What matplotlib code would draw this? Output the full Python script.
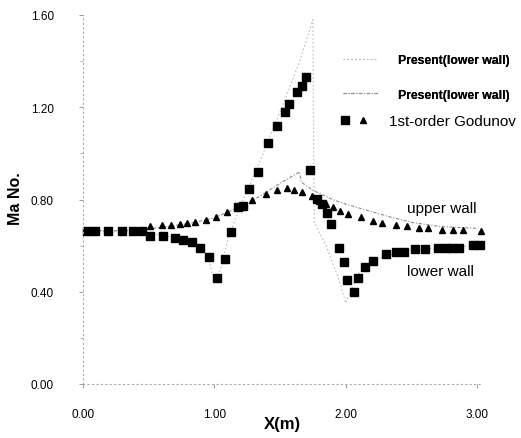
import matplotlib
matplotlib.use("Agg")
import matplotlib.pyplot as plt
from matplotlib.legend_handler import HandlerTuple

plt.rcParams['font.family'] = ['Liberation Sans', 'DejaVu Sans']
NARROW = ['Liberation Sans Narrow', 'Liberation Sans', 'DejaVu Sans']

# 1st-order Godunov, lower wall (squares)
sq_x = [0.03, 0.09, 0.19, 0.30, 0.38, 0.45, 0.51, 0.61, 0.70, 0.76, 0.83, 0.89, 0.96,
        1.02, 1.08, 1.13, 1.18, 1.22, 1.26, 1.33, 1.41, 1.48, 1.54, 1.57, 1.63, 1.67,
        1.70, 1.73, 1.78, 1.82, 1.86, 1.89, 1.95, 1.99, 2.01, 2.06, 2.09, 2.15, 2.21,
        2.31, 2.38, 2.44, 2.53, 2.60, 2.70, 2.76, 2.81, 2.86, 2.97, 3.02]
sq_y = [0.663, 0.663, 0.663, 0.663, 0.663, 0.663, 0.642, 0.642, 0.633, 0.624, 0.616,
        0.590, 0.551, 0.460, 0.542, 0.659, 0.766, 0.772, 0.846, 0.919, 1.045, 1.119,
        1.180, 1.214, 1.266, 1.292, 1.331, 0.928, 0.802, 0.780, 0.742, 0.694, 0.590,
        0.527, 0.451, 0.399, 0.460, 0.507, 0.533, 0.564, 0.572, 0.572, 0.585, 0.585,
        0.590, 0.590, 0.590, 0.590, 0.603, 0.603]

# 1st-order Godunov, upper wall (triangles)
tr_x = [0.03, 0.09, 0.19, 0.30, 0.38, 0.45, 0.51, 0.60, 0.67, 0.74, 0.79, 0.85, 0.94,
        1.01, 1.10, 1.18, 1.22, 1.29, 1.39, 1.48, 1.55, 1.61, 1.67, 1.74, 1.80, 1.85,
        1.90, 1.96, 2.02, 2.12, 2.21, 2.28, 2.38, 2.47, 2.56, 2.63, 2.73, 2.82, 2.89,
        3.03]
tr_y = [0.663, 0.663, 0.663, 0.663, 0.663, 0.665, 0.685, 0.688, 0.690, 0.694, 0.698,
        0.702, 0.711, 0.724, 0.746, 0.768, 0.772, 0.798, 0.824, 0.841, 0.850, 0.841,
        0.833, 0.815, 0.795, 0.780, 0.768, 0.750, 0.737, 0.724, 0.707, 0.698, 0.689,
        0.685, 0.676, 0.676, 0.668, 0.668, 0.668, 0.663]

# Present, lower wall
pl_x = [0.0, 0.2, 0.4, 0.5, 0.6, 0.7, 0.8, 0.9, 0.95, 1.0, 1.05, 1.1, 1.15, 1.22,
        1.35, 1.5, 1.65, 1.75, 1.76, 1.85, 1.95, 2.0, 2.05, 2.1, 2.2, 2.3, 2.5, 2.7,
        3.0]
pl_y = [0.66, 0.66, 0.66, 0.655, 0.645, 0.635, 0.62, 0.595, 0.56, 0.44, 0.50, 0.62,
        0.70, 0.80, 0.97, 1.18, 1.40, 1.58, 0.70, 0.60, 0.45, 0.35, 0.42, 0.48, 0.53,
        0.555, 0.58, 0.59, 0.60]

# Present, upper wall
pu_x = [0.0, 0.4, 0.6, 0.8, 1.0, 1.2, 1.35, 1.5, 1.65, 1.66, 1.75, 1.9, 2.0, 2.15,
        2.34, 2.51, 2.72, 3.0]
pu_y = [0.665, 0.665, 0.68, 0.695, 0.72, 0.77, 0.815, 0.87, 0.92, 0.876, 0.84, 0.80,
        0.78, 0.755, 0.724, 0.70, 0.683, 0.675]

xticks = [0.0, 1.0, 2.0, 3.0]
yticks = [0.0, 0.4, 0.8, 1.2, 1.6]

W, H = 521, 439
fig = plt.figure(figsize=(W / 100, H / 100), dpi=100)
ax = fig.add_axes([83 / W, 1 - 385 / H, (481 - 83) / W, (385 - 16) / H])

l_low, = ax.plot(pl_x, pl_y, color='#bdbdbd', lw=0.8, ls=(0, (1.5, 2)))
l_up, = ax.plot(pu_x, pu_y, color='#8c8c8c', lw=0.8, ls=(0, (3, 1.5, 1, 1.5)))
m_sq, = ax.plot(sq_x, sq_y, ls='none', marker='s', ms=5.2, color='black', clip_on=False)
m_tr, = ax.plot(tr_x, tr_y, ls='none', marker='^', ms=5.0, color='black', clip_on=False)

ax.set_xlim(0, 3.03)
ax.set_ylim(0, 1.6)
ax.set_xticks(xticks)
ax.set_xticklabels([f"{v:.2f}" for v in xticks])
ax.set_yticks(yticks)
ax.set_yticklabels([f"{v:.2f}" for v in yticks])
ax.set_yticks([0.2, 0.6, 1.0, 1.4], minor=True)
ax.tick_params(axis='both', which='major', direction='out', length=3, width=0.6,
               color='#888888', labelsize=8.5, pad=18)
ax.tick_params(axis='x', which='major', pad=14)
ax.tick_params(axis='y', which='minor', direction='out', length=2, width=0.6,
               color='#aaaaaa')
for s in ['top', 'right']:
    ax.spines[s].set_visible(False)
for s in ['left', 'bottom']:
    ax.spines[s].set_color('#aaaaaa')
    ax.spines[s].set_linestyle((0, (1, 3)))
    ax.spines[s].set_linewidth(0.8)
ax.spines['bottom'].set_bounds(0, 3.03)

fig.text(282 / W, 1 - 425 / H, 'X(m)', fontsize=12, fontweight='bold',
         ha='center', va='center')
fig.text(15 / W, 1 - 199 / H, 'Ma No.', fontsize=11.5, fontweight='bold',
         rotation=90, ha='center', va='center')

leg1 = fig.legend([l_low, l_up], ['Present(lower wall)', 'Present(lower wall)'],
                  loc='upper left', bbox_to_anchor=(343 / W, 1 - 55 / H),
                  bbox_transform=fig.transFigure, frameon=False,
                  prop={'family': NARROW, 'weight': 'bold', 'size': 8.8},
                  handlelength=2.85, handletextpad=1.65, labelspacing=1.85,
                  borderpad=0, borderaxespad=0)
fig.add_artist(leg1)
leg2 = fig.legend([(m_sq, m_tr)], ['1st-order Godunov'],
                  handler_map={tuple: HandlerTuple(ndivide=None, pad=0.3)},
                  loc='upper left', bbox_to_anchor=(339 / W, 1 - 115 / H),
                  bbox_transform=fig.transFigure, frameon=False,
                  prop={'size': 11}, handlelength=2.0, handletextpad=1.25,
                  borderpad=0, borderaxespad=0, numpoints=1)

ax.text(2.47, 0.765, 'upper wall', fontsize=11, ha='left', va='center')
ax.text(2.47, 0.49, 'lower wall', fontsize=11, ha='left', va='center')

fig.savefig('out.png', dpi=100)
